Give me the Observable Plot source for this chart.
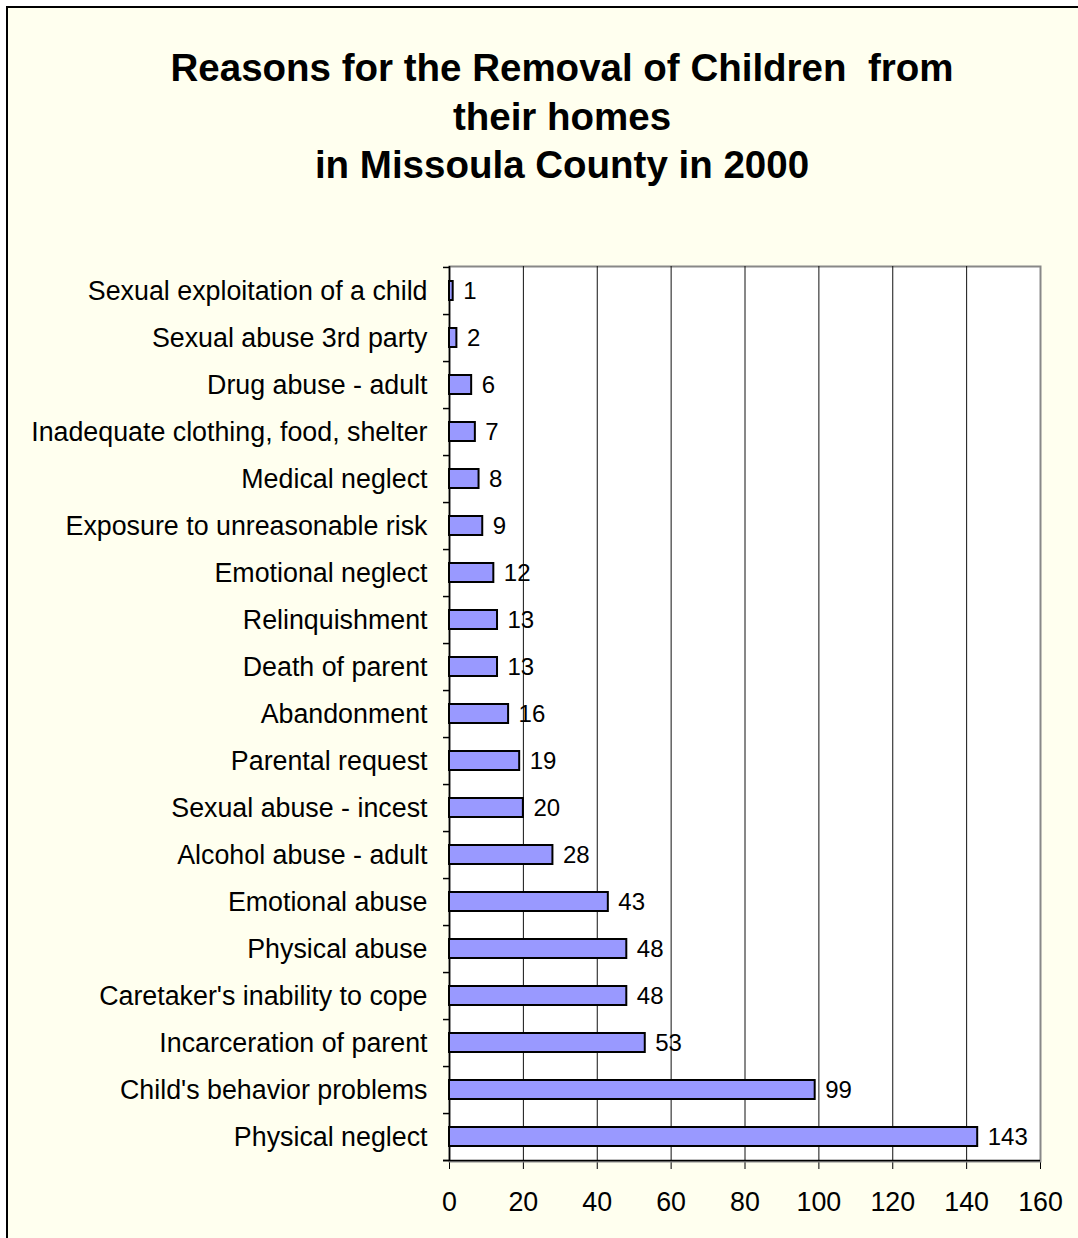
<!DOCTYPE html>
<html>
<head>
<meta charset="utf-8">
<script src="https://cdn.jsdelivr.net/npm/d3@7"></script>
<script src="https://cdn.jsdelivr.net/npm/@observablehq/plot@0.6"></script>
<style>
  html, body { margin: 0; padding: 0; background: #ffffff; }
  #page {
    position: absolute; left: 6px; top: 6px; width: 1090px; height: 1250px;
    background: #FFFFEF; border-left: 2px solid #000; border-top: 2px solid #000;
    font-family: "Liberation Sans", Arial, sans-serif;
  }
  #title {
    position: absolute; left: -8px; top: 36px; width: 1124px; text-align: center;
    font-weight: bold; font-size: 38.5px; line-height: 48.5px; color: #000;
  }
  #chart { position: absolute; left: -8px; top: 212px; }
</style>
</head>
<body>
<div id="page">
  <div id="title">Reasons for the Removal of Children&nbsp; from<br>their homes<br>in Missoula County in 2000</div>
  <div id="chart"></div>
</div>
<script>
const reasons = [
  "Sexual exploitation of a child",
  "Sexual abuse 3rd party",
  "Drug abuse - adult",
  "Inadequate clothing, food, shelter",
  "Medical neglect",
  "Exposure to unreasonable risk",
  "Emotional neglect",
  "Relinquishment",
  "Death of parent",
  "Abandonment",
  "Parental request",
  "Sexual abuse - incest",
  "Alcohol abuse - adult",
  "Emotional abuse",
  "Physical abuse",
  "Caretaker's inability to cope",
  "Incarceration of parent",
  "Child's behavior problems",
  "Physical neglect"
];
const counts = [1, 2, 6, 7, 8, 9, 12, 13, 13, 16, 19, 20, 28, 43, 48, 48, 53, 99, 143];
const xTicks = [0, 20, 40, 60, 80, 100, 120, 140, 160];
const gridValues = [20, 40, 60, 80, 100, 120, 140];

const data = reasons.map((r, i) => ({reason: r, value: counts[i]}));

const W = 1078, H = 1018, mT = 46, mB = 77, mL = 449, mR = 38;
const step = (H - mT - mB) / reasons.length;

const chart = Plot.plot({
  width: W,
  height: H,
  marginTop: mT,
  marginBottom: mB,
  marginLeft: mL,
  marginRight: mR,
  style: {background: "transparent", fontFamily: "'Liberation Sans', Arial, sans-serif", fontSize: "26.8px", color: "#000"},
  x: {domain: [0, 160], ticks: xTicks, tickSize: 8, tickPadding: 22, label: null},
  y: {domain: reasons, paddingInner: 0.6, paddingOuter: 0.3, tickSize: 0, tickPadding: 22, label: null},
  marks: [
    Plot.frame({fill: "white", stroke: "#888", strokeWidth: 2}),
    Plot.ruleX(gridValues, {stroke: "#111", strokeWidth: 1}),
    Plot.ruleX([0], {stroke: "#000", strokeWidth: 1.5}),
    Plot.ruleY(reasons.slice(-1), {y: d => d, stroke: "#000", strokeWidth: 1.5, dy: step / 2, insetLeft: -6}),
    Plot.ruleY(reasons, {y: d => d, x1: 0, x2: 0, insetLeft: -6, dy: step / 2, stroke: "#000", strokeWidth: 1.5}),
    Plot.ruleY(reasons.slice(0, 1), {y: d => d, x1: 0, x2: 0, insetLeft: -6, dy: -step / 2, stroke: "#000", strokeWidth: 1.5}),
    Plot.barX(data, {x: "value", y: "reason", fill: "#9999FF", stroke: "#000", strokeWidth: 2}),
    Plot.text(data, {x: "value", y: "reason", text: d => String(d.value), textAnchor: "start", dx: 10, fontSize: 24, fill: "#000"})
  ]
});
document.getElementById("chart").appendChild(chart);
</script>
</body>
</html>
